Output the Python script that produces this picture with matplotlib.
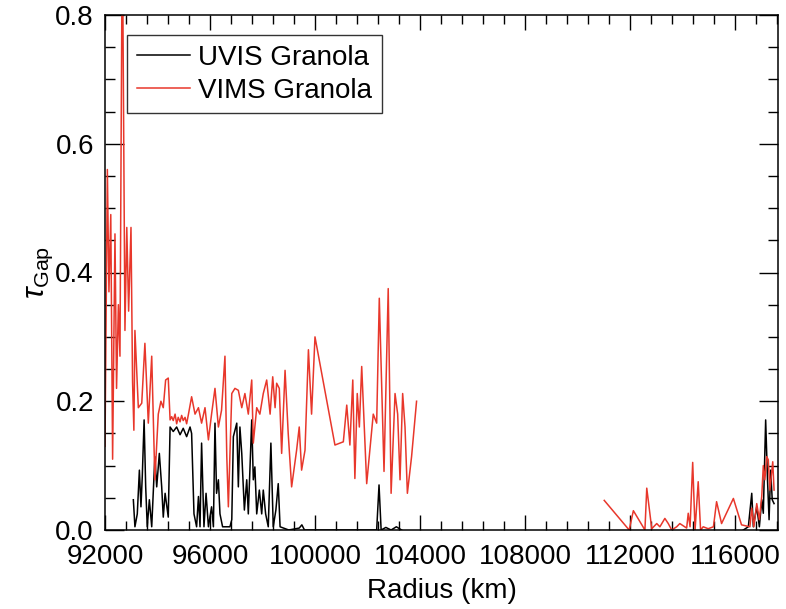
import numpy as np
import matplotlib
matplotlib.use('Agg')
import matplotlib.pyplot as plt
from matplotlib.ticker import MultipleLocator

plt.rcParams['font.family'] = ['Liberation Sans', 'DejaVu Sans']
plt.rcParams['mathtext.fontset'] = 'custom'
plt.rcParams['mathtext.rm'] = 'Liberation Sans'
plt.rcParams['mathtext.it'] = 'Liberation Sans:italic'

# VIMS Granola (two pieces, gap between 103900 and 111000 km)
vims_r = [92000, 92090, 92150, 92220, 92290, 92380, 92440, 92510, 92570, 92660,
          92760, 92830, 92900, 92990, 93050, 93100, 93140, 93270, 93400, 93520,
          93650, 93780, 93900, 94030, 94130, 94220, 94310, 94410, 94480, 94540,
          94600, 94670, 94730, 94790, 94860, 94920, 94980, 95050, 95110, 95180,
          95300, 95430, 95560, 95680, 95810, 95940, 96060, 96190, 96320, 96440,
          96570, 96640, 96700, 96830, 96950, 97080, 97210, 97330, 97460, 97590,
          97650, 97780, 97900, 98030, 98160, 98290, 98390, 98480, 98540, 98640,
          98730, 98860, 98980, 99110, 99300, 99400, 99490, 99620, 99750, 99870,
          100000, 100760, 101080, 101210, 101330, 101440, 101520, 101610, 101690, 101780,
          101970, 102220, 102350, 102450, 102630, 102790, 102900, 103050, 103150, 103240,
          103340, 103430, 103520, 103680, 103870]
vims_tau = [0.13, 0.56, 0.37, 0.49, 0.11, 0.46, 0.22, 0.35, 0.27, 0.95,
            0.31, 0.47, 0.34, 0.47, 0.23, 0.155, 0.31, 0.19, 0.197, 0.29,
            0.166, 0.27, 0.078, 0.18, 0.20, 0.19, 0.233, 0.236, 0.171, 0.176,
            0.17, 0.18, 0.165, 0.175, 0.168, 0.178, 0.17, 0.175, 0.165, 0.18,
            0.207, 0.18, 0.19, 0.166, 0.19, 0.14, 0.18, 0.22, 0.16, 0.186,
            0.27, 0.114, 0.036, 0.212, 0.22, 0.217, 0.19, 0.212, 0.18, 0.233,
            0.135, 0.19, 0.18, 0.212, 0.233, 0.18, 0.238, 0.19, 0.228, 0.22,
            0.119, 0.248, 0.15, 0.067, 0.124, 0.16, 0.093, 0.124, 0.28, 0.18,
            0.30, 0.132, 0.137, 0.194, 0.132, 0.233, 0.080, 0.212, 0.16, 0.254,
            0.072, 0.18, 0.166, 0.36, 0.091, 0.375, 0.057, 0.212, 0.18, 0.078,
            0.212, 0.16, 0.057, 0.114, 0.20]
vims_r2 = [111020, 111970, 112130, 112570, 112640, 112830, 113020, 113140, 113330, 113460,
           113590, 113780, 113900, 114160, 114220, 114290, 114390, 114480, 114600, 114690,
           114790, 114980, 115180, 115300, 115490, 115940, 116250, 116570, 116640, 116720,
           116830, 116930, 117020, 117080, 117140, 117210, 117270, 117330, 117440, 117490]
vims_tau2 = [0.046, 0.0, 0.03, 0.0, 0.065, 0.002, 0.01, 0.005, 0.018, 0.01,
             0.0, 0.005, 0.01, 0.003, 0.026, 0.005, 0.105, 0.0, 0.075, 0.0,
             0.005, 0.002, 0.005, 0.044, 0.01, 0.049, 0.008, 0.005, 0.034, 0.005,
             0.041, 0.016, 0.052, 0.10, 0.078, 0.114, 0.109, 0.062, 0.106, 0.062]

# UVIS Granola
uvis_r = [93080, 93140, 93230, 93310, 93370, 93420, 93490, 93550, 93610, 93690,
          93780, 93900, 93970, 94070, 94160, 94220, 94290, 94410, 94480, 94600,
          94730, 94860, 94980, 95110, 95240, 95300, 95390, 95490, 95560, 95620,
          95680, 95770, 95850, 95940, 96060, 96130, 96190, 96250, 96320, 96380,
          96480, 96610, 96760, 96830, 96890, 97020, 97080, 97140, 97210, 97310,
          97400, 97460, 97590, 97650, 97710, 97780, 97880, 97970, 98030, 98120,
          98220, 98320, 98410, 98510, 98600, 98670, 99000, 99400, 99500, 99600,
          100500, 102350, 102440, 102520, 102700, 102900, 103100, 103300]
uvis_tau = [0.047, 0.005, 0.025, 0.093, 0.036, 0.083, 0.171, 0.067, 0.005, 0.047,
            0.005, 0.114, 0.067, 0.119, 0.067, 0.02, 0.057, 0.02, 0.16, 0.153,
            0.16, 0.148, 0.158, 0.145, 0.16, 0.15, 0.025, 0.005, 0.052, 0.005,
            0.135, 0.005, 0.057, 0.005, 0.036, 0.005, 0.166, 0.057, 0.078, 0.025,
            0.005, 0.005, 0.005, 0.016, 0.145, 0.166, 0.067, 0.16, 0.119, 0.031,
            0.078, 0.025, 0.171, 0.078, 0.098, 0.025, 0.062, 0.025, 0.062, 0.025,
            0.005, 0.135, 0.005, 0.031, 0.072, 0.005, 0.0, 0.003, 0.008, 0.0,
            0.0, 0.0, 0.07, 0.0, 0.004, 0.0, 0.005, 0.0]
uvis_r2 = [116320, 116510, 116640, 116700, 116830, 116930, 117020, 117080, 117170, 117240,
           117300, 117360, 117420, 117490]
uvis_tau2 = [0.0, 0.005, 0.057, 0.005, 0.036, 0.005, 0.047, 0.026, 0.171, 0.078,
             0.016, 0.093, 0.047, 0.041]

red = '#e8372b'

fig = plt.figure(figsize=(7.86, 6.09), dpi=100)
ax = fig.add_axes([105 / 786, 1 - 530 / 609, 673 / 786, 515 / 609])

ax.plot(uvis_r, uvis_tau, color='black', lw=1.1, label='UVIS Granola')
ax.plot(uvis_r2, uvis_tau2, color='black', lw=1.1)
ax.plot(vims_r, vims_tau, color=red, lw=1.1, label='VIMS Granola')
ax.plot(vims_r2, vims_tau2, color=red, lw=1.1)

ax.set_xlim(92000, 117640)
ax.set_ylim(0, 0.8)
ax.xaxis.set_major_locator(MultipleLocator(4000))
ax.xaxis.set_minor_locator(MultipleLocator(800))
ax.yaxis.set_major_locator(MultipleLocator(0.2))
ax.yaxis.set_minor_locator(MultipleLocator(0.05))
ax.set_yticks([0, 0.2, 0.4, 0.6, 0.8])
ax.set_yticklabels(['0.0', '0.2', '0.4', '0.6', '0.8'])

ax.tick_params(which='both', direction='in', top=True, right=True, width=1.0, labelsize=20)
ax.tick_params(axis='x', which='major', length=11, pad=10)
ax.tick_params(axis='x', which='minor', length=6.5)
ax.tick_params(axis='y', which='major', length=14, pad=8)
ax.tick_params(axis='y', which='minor', length=7)
for s in ax.spines.values():
    s.set_linewidth(1.1)

ax.set_xlabel('Radius (km)', fontsize=20, labelpad=6)
ax.set_ylabel(r'$\tau_{\rm Gap}$', fontsize=22, labelpad=0)

leg = ax.legend(loc='upper left', bbox_to_anchor=(0.033, 0.961), borderaxespad=0,
                fontsize=20, frameon=True, fancybox=False, edgecolor='black',
                handlelength=1.9, handletextpad=0.3, borderpad=0.35, labelspacing=0.25)
leg.get_frame().set_linewidth(1.0)

fig.savefig('out.png', dpi=100)
